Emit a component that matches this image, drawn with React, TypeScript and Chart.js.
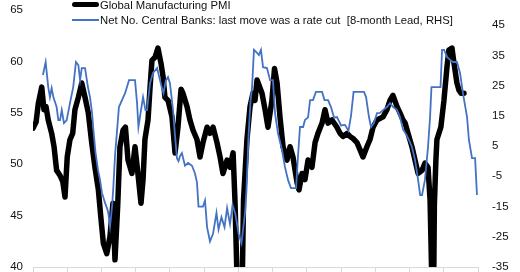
import React, { useEffect, useRef } from "react";
import { Chart, registerables } from "chart.js";

Chart.register(...registerables);

// Global Manufacturing PMI (LHS), dates as decimal years
const pmiDates = [1997.00,1997.18,1997.31,1997.51,1997.64,1997.76,1997.89,1998.09,1998.23,1998.38,1998.58,1998.74,1998.87,1999.00,1999.16,1999.32,1999.45,1999.65,1999.85,2000.04,2000.23,2000.43,2000.62,2000.82,2000.96,2001.11,2001.31,2001.50,2001.67,2001.79,2001.95,2002.08,2002.26,2002.40,2002.55,2002.78,2002.96,2003.13,2003.31,2003.43,2003.54,2003.72,2003.84,2003.95,2004.13,2004.30,2004.48,2004.60,2004.71,2004.89,2005.12,2005.30,2005.47,2005.65,2005.76,2006.00,2006.17,2006.35,2006.58,2006.76,2006.93,2007.17,2007.34,2007.52,2007.75,2007.93,2008.10,2008.34,2008.51,2008.69,2008.80,2008.92,2009.04,2009.15,2009.24,2009.30,2009.50,2009.68,2009.85,2009.97,2010.09,2010.38,2010.56,2010.73,2010.96,2011.11,2011.26,2011.43,2011.61,2011.84,2012.02,2012.19,2012.43,2012.54,2012.72,2012.89,2013.07,2013.30,2013.48,2013.65,2013.89,2014.06,2014.24,2014.47,2014.76,2014.94,2015.11,2015.35,2015.52,2015.70,2015.93,2016.11,2016.28,2016.51,2016.69,2016.87,2017.10,2017.45,2017.68,2017.86,2018.03,2018.27,2018.44,2018.62,2018.74,2018.91,2019.14,2019.32,2019.50,2019.73,2019.90,2020.08,2020.20,2020.31,2020.40,2020.45,2020.54,2020.60,2020.83,2021.01,2021.19,2021.30,2021.48,2021.60,2021.77,2021.89,2022.01,2022.18];
const pmiValues = [53.5,54.1,55.9,57.5,55.3,55.6,54.3,53.0,51.7,49.4,48.9,48.3,46.8,50.7,52.4,53.0,55.3,56.5,57.9,56.5,55.0,52.1,49.7,47.5,44.9,42.3,41.3,43.0,46.2,40.7,46.0,51.7,53.3,53.6,50.4,49.1,51.7,49.1,46.2,48.5,52.4,54.3,57.5,60.1,60.4,61.3,59.8,58.5,56.5,56.2,54.6,51.1,53.6,57.3,56.9,55.6,54.3,53.3,52.4,50.7,52.1,53.6,53.0,53.6,52.1,50.7,49.1,50.4,49.7,51.1,46.5,39.0,35.0,36.0,40.0,46.5,52.4,55.6,56.9,56.2,58.2,56.9,55.3,53.6,56.2,59.3,57.9,54.6,51.7,50.4,51.7,50.7,48.2,47.5,49.1,48.5,50.4,49.7,52.1,53.0,54.0,55.3,54.0,54.3,53.6,53.0,52.7,53.0,52.7,52.5,52.1,51.4,50.7,51.7,52.4,53.6,54.3,54.6,55.3,56.2,56.7,55.6,55.0,54.3,54.0,53.0,51.7,50.4,49.1,49.4,50.1,49.7,46.5,38.0,36.0,46.0,50.4,52.4,53.6,56.2,59.5,61.1,61.3,59.8,57.9,57.2,56.9,56.9];

// Net No. Central Banks: last move was a rate cut, 8-month lead (RHS)
const cbDates = [1997.58,1997.74,1997.89,1997.99,1998.09,1998.19,1998.38,1998.48,1998.58,1998.68,1998.81,1998.97,1999.16,1999.35,1999.51,1999.65,1999.75,1999.85,2000.04,2000.21,2000.33,2000.45,2000.53,2000.65,2000.80,2000.91,2001.03,2001.21,2001.35,2001.41,2001.50,2001.62,2001.70,2001.79,2001.91,2002.02,2002.20,2002.38,2002.49,2002.61,2002.96,2003.08,2003.16,2003.31,2003.43,2003.57,2003.66,2003.84,2004.01,2004.25,2004.42,2004.54,2004.62,2004.77,2004.89,2005.00,2005.18,2005.30,2005.41,2005.50,2005.59,2005.70,2005.88,2006.06,2006.29,2006.46,2006.58,2006.67,2006.93,2007.05,2007.17,2007.34,2007.52,2007.72,2007.84,2008.01,2008.19,2008.34,2008.51,2008.66,2008.83,2009.01,2009.18,2009.39,2009.47,2009.59,2009.71,2009.80,2009.91,2010.09,2010.20,2010.32,2010.44,2010.67,2010.85,2011.02,2011.14,2011.31,2011.55,2011.72,2011.90,2012.07,2012.37,2012.48,2012.60,2012.78,2012.89,2013.07,2013.19,2013.36,2013.53,2013.89,2014.03,2014.24,2014.41,2014.59,2014.76,2015.00,2015.23,2015.43,2015.58,2015.73,2016.34,2016.46,2016.63,2016.75,2016.92,2017.10,2017.27,2017.45,2017.68,2017.86,2018.03,2018.27,2018.44,2018.62,2018.79,2018.97,2019.14,2019.32,2019.50,2019.62,2019.73,2019.90,2020.08,2020.20,2020.28,2020.81,2020.90,2021.02,2021.20,2021.37,2021.54,2021.77,2021.95,2022.12,2022.36,2022.47,2022.65,2022.83,2022.94];
const cbValues = [28.5,32.8,24.5,21.2,24.2,21.2,17.9,13.6,13.6,16.9,12.6,13.6,19.2,24.5,32.8,31.8,26.8,30.8,30.8,24.5,21.2,16.0,10.3,3.0,-3.0,-6.0,-10.5,-13.8,-16.0,-17.5,-21.6,-15.0,-8.0,1.7,10.0,17.9,20.2,22.5,24.5,26.8,26.8,19.2,11.3,16.9,21.2,16.9,16.9,25.8,29.2,30.8,26.8,24.0,22.5,26.8,27.8,25.8,17.0,8.3,1.0,0.0,1.7,2.7,-1.5,-0.6,-1.5,-4.0,-7.0,-15.0,-15.0,-13.0,-21.8,-26.5,-24.0,-17.1,-22.6,-18.5,-21.8,-15.5,-20.8,-14.5,-17.6,-24.0,-27.1,-17.0,-10.0,8.0,20.0,24.5,36.8,35.8,35.1,36.8,31.1,30.8,26.8,26.8,15.9,9.3,3.7,-1.9,-6.2,-8.9,-8.9,1.4,11.3,11.3,13.6,14.5,20.2,20.2,22.9,22.9,20.2,20.2,17.9,14.4,14.6,11.8,12.0,10.0,15.0,22.9,22.9,21.2,14.6,11.3,12.6,15.9,16.0,16.9,17.9,19.2,18.0,16.9,14.6,10.5,9.0,7.0,4.7,0.4,-6.2,-11.2,-11.2,-6.2,4.7,14.6,24.5,24.5,36.8,36.8,34.4,33.5,32.8,32.8,29.2,22.5,14.6,7.0,1.0,1.0,-11.2];

const leftTicks = [40, 45, 50, 55, 60, 65];
const rightTicks = [-35, -25, -15, -5, 5, 15, 25, 35, 45];
const xTickYears = [1997, 1999, 2001, 2003, 2005, 2007, 2009, 2011, 2013, 2015, 2017, 2019, 2021, 2023];

const seriesNames = [
  "Global Manufacturing PMI",
  "Net No. Central Banks: last move was a rate cut  [8-month Lead, RHS]",
];

const FONT = "'Liberation Sans', Arial, sans-serif";
const BLUE = "#4472C4";

export default function App() {
  const ref = useRef<HTMLCanvasElement | null>(null);

  useEffect(() => {
    document.body.style.margin = "0";
    const ctx = ref.current!;
    const chart = new Chart(ctx, {
      type: "line",
      data: {
        datasets: [
          {
            label: seriesNames[1],
            data: cbDates.map((d, i) => ({ x: d, y: cbValues[i] })),
            borderColor: BLUE,
            borderWidth: 1.8,
            pointRadius: 0,
            tension: 0,
            yAxisID: "y2",
            order: 0,
          },
          {
            label: seriesNames[0],
            data: pmiDates.map((d, i) => ({ x: d, y: pmiValues[i] })),
            borderColor: "#000000",
            borderWidth: 5.5,
            pointRadius: 0,
            tension: 0,
            borderJoinStyle: "round",
            borderCapStyle: "round",
            yAxisID: "y",
            order: 1,
          },
        ],
      },
      options: {
        responsive: false,
        animation: false,
        devicePixelRatio: 1,
        layout: { padding: { top: 10, left: 0, right: 0, bottom: 0 } },
        plugins: { legend: { display: false }, tooltip: { enabled: false } },
        scales: {
          x: {
            type: "linear",
            min: xTickYears[0],
            max: xTickYears[xTickYears.length - 1],
            afterBuildTicks: (s: any) => {
              s.ticks = xTickYears.map((v) => ({ value: v }));
            },
            afterFit: (s: any) => {
              s.height = 5;
              s.paddingLeft = 0;
              s.paddingRight = 0;
            },
            ticks: { display: false },
            grid: {
              display: true,
              drawOnChartArea: false,
              drawTicks: true,
              tickLength: 5,
              color: "#d9d9d9",
              lineWidth: 1,
            },
            border: { display: true, color: "#d9d9d9", width: 1 },
          },
          y: {
            position: "left",
            min: 40,
            max: 65,
            afterBuildTicks: (s: any) => {
              s.ticks = leftTicks.map((v) => ({ value: v }));
            },
            afterFit: (s: any) => {
              s.width = 33;
              s.paddingTop = 0;
              s.paddingBottom = 0;
            },
            ticks: {
              padding: 10,
              color: "#111111",
              font: { family: FONT, size: 11.5 },
            },
            grid: { display: false, drawTicks: false },
            border: { display: false },
          },
          y2: {
            position: "right",
            min: -35,
            max: 50,
            afterBuildTicks: (s: any) => {
              s.ticks = rightTicks.map((v) => ({ value: v }));
            },
            afterFit: (s: any) => {
              s.width = 42;
              s.paddingTop = 0;
              s.paddingBottom = 0;
            },
            ticks: {
              padding: 14,
              color: "#111111",
              font: { family: FONT, size: 11.5 },
            },
            grid: { display: false, drawTicks: false },
            border: { display: false },
          },
        },
      },
    });
    return () => chart.destroy();
  }, []);

  const textStyle: React.CSSProperties = {
    position: "absolute",
    left: 100,
    fontFamily: FONT,
    fontSize: 11.3,
    lineHeight: "12px",
    color: "#111111",
    whiteSpace: "pre",
  };

  return (
    <div style={{ position: "relative", width: 520, height: 272, background: "#fff", overflow: "hidden" }}>
      <canvas ref={ref} width={520} height={272} style={{ display: "block" }} />
      <div style={{ position: "absolute", left: 72, top: 2, width: 27, height: 5, background: "#000", borderRadius: 2.5 }} />
      <div style={{ ...textStyle, top: -1 }}>{seriesNames[0]}</div>
      <div style={{ position: "absolute", left: 72, top: 19, width: 27, height: 2, background: BLUE }} />
      <div style={{ ...textStyle, top: 14 }}>{seriesNames[1]}</div>
    </div>
  );
}
